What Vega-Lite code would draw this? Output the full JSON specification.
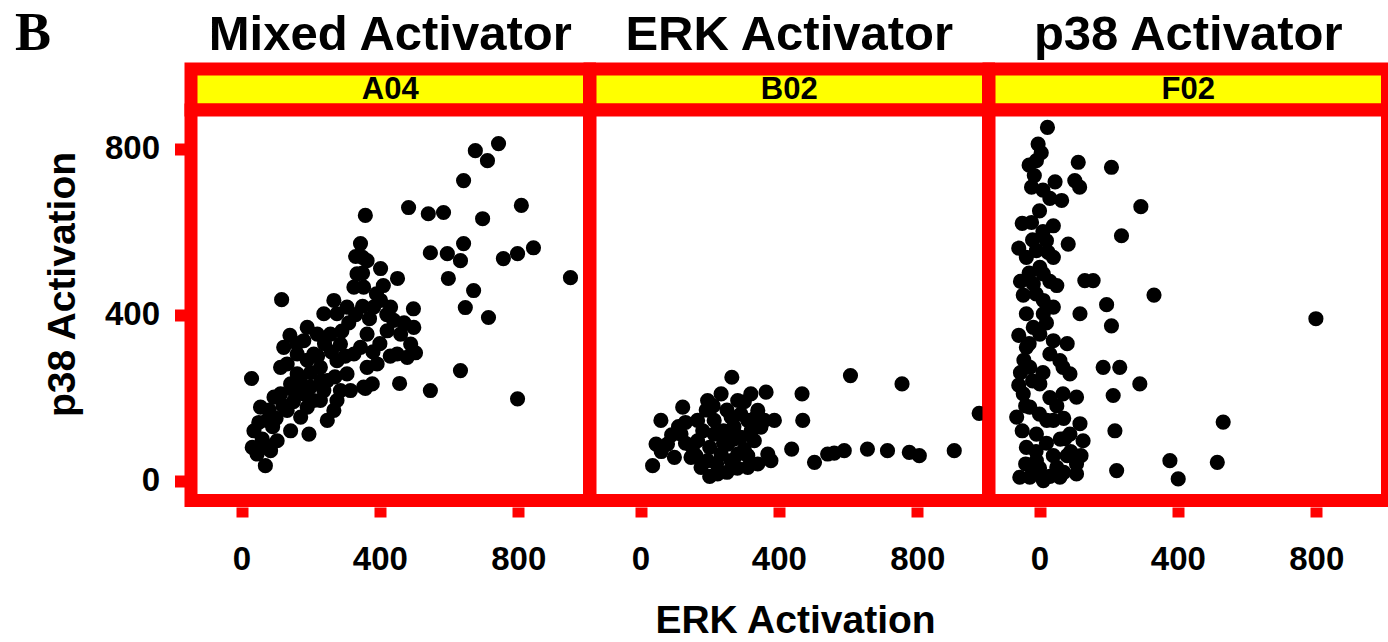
{
  "$schema": "https://vega.github.io/schema/vega-lite/v6.json",
  "autosize": {"type": "pad"},
  "padding": {"left": 14, "top": 4, "right": 0, "bottom": 0},
  "background": "white",
  "title": {"text": "B", "anchor": "start", "frame": "bounds", "font": "Liberation Serif", "fontSize": 54, "fontWeight": "bold", "color": "black", "dx": -22, "dy": 56, "offset": 0},
  "datasets": {
    "pts": [
      {"panel": "A04", "erk": 743, "p38": 812}, {"panel": "A04", "erk": 676, "p38": 795}, {"panel": "A04", "erk": 711, "p38": 771}, {"panel": "A04", "erk": 642, "p38": 723}, {"panel": "A04", "erk": 809, "p38": 663}, {"panel": "A04", "erk": 358, "p38": 639}, {"panel": "A04", "erk": 483, "p38": 658}, {"panel": "A04", "erk": 540, "p38": 643}, {"panel": "A04", "erk": 584, "p38": 646}, {"panel": "A04", "erk": 697, "p38": 631}, {"panel": "A04", "erk": 344, "p38": 571}, {"panel": "A04", "erk": 350, "p38": 538}, {"panel": "A04", "erk": 546, "p38": 549}, {"panel": "A04", "erk": 595, "p38": 547}, {"panel": "A04", "erk": 642, "p38": 571}, {"panel": "A04", "erk": 633, "p38": 530}, {"panel": "A04", "erk": 757, "p38": 535}, {"panel": "A04", "erk": 798, "p38": 547}, {"panel": "A04", "erk": 844, "p38": 561}, {"panel": "A04", "erk": 951, "p38": 489}, {"panel": "A04", "erk": 598, "p38": 487}, {"panel": "A04", "erk": 402, "p38": 511}, {"panel": "A04", "erk": 451, "p38": 487}, {"panel": "A04", "erk": 671, "p38": 458}, {"panel": "A04", "erk": 647, "p38": 417}, {"panel": "A04", "erk": 714, "p38": 393}, {"panel": "A04", "erk": 497, "p38": 414}, {"panel": "A04", "erk": 503, "p38": 308}, {"panel": "A04", "erk": 633, "p38": 265}, {"panel": "A04", "erk": 798, "p38": 197}, {"panel": "A04", "erk": 546, "p38": 217}, {"panel": "A04", "erk": 457, "p38": 234}, {"panel": "A04", "erk": 116, "p38": 436}, {"panel": "A04", "erk": 29, "p38": 246}, {"panel": "A04", "erk": 69, "p38": 36}, {"panel": "A04", "erk": 358, "p38": 222},
      {"panel": "A04", "erk": 31, "p38": 80}, {"panel": "A04", "erk": 36, "p38": 120}, {"panel": "A04", "erk": 55, "p38": 177}, {"panel": "A04", "erk": 74, "p38": 145}, {"panel": "A04", "erk": 65, "p38": 88}, {"panel": "A04", "erk": 103, "p38": 96}, {"panel": "A04", "erk": 113, "p38": 209}, {"panel": "A04", "erk": 132, "p38": 169}, {"panel": "A04", "erk": 142, "p38": 120}, {"panel": "A04", "erk": 171, "p38": 153}, {"panel": "A04", "erk": 195, "p38": 112}, {"panel": "A04", "erk": 190, "p38": 177}, {"panel": "A04", "erk": 228, "p38": 193}, {"panel": "A04", "erk": 267, "p38": 169}, {"panel": "A04", "erk": 276, "p38": 193}, {"panel": "A04", "erk": 248, "p38": 145}, {"panel": "A04", "erk": 84, "p38": 72}, {"panel": "A04", "erk": 45, "p38": 64},
      {"panel": "A04", "erk": 122, "p38": 321}, {"panel": "A04", "erk": 132, "p38": 281}, {"panel": "A04", "erk": 161, "p38": 257}, {"panel": "A04", "erk": 190, "p38": 369}, {"panel": "A04", "erk": 180, "p38": 337}, {"panel": "A04", "erk": 209, "p38": 305}, {"panel": "A04", "erk": 228, "p38": 273}, {"panel": "A04", "erk": 248, "p38": 241}, {"panel": "A04", "erk": 276, "p38": 289}, {"panel": "A04", "erk": 286, "p38": 329}, {"panel": "A04", "erk": 238, "p38": 402}, {"panel": "A04", "erk": 267, "p38": 434}, {"panel": "A04", "erk": 305, "p38": 418}, {"panel": "A04", "erk": 325, "p38": 466}, {"panel": "A04", "erk": 334, "p38": 498}, {"panel": "A04", "erk": 353, "p38": 466}, {"panel": "A04", "erk": 305, "p38": 257}, {"panel": "A04", "erk": 325, "p38": 305}, {"panel": "A04", "erk": 344, "p38": 321}, {"panel": "A04", "erk": 363, "p38": 273}, {"panel": "A04", "erk": 353, "p38": 225}, {"panel": "A04", "erk": 315, "p38": 217}, {"panel": "A04", "erk": 199, "p38": 225}, {"panel": "A04", "erk": 151, "p38": 217}, {"panel": "A04", "erk": 363, "p38": 353}, {"panel": "A04", "erk": 382, "p38": 418}, {"panel": "A04", "erk": 402, "p38": 434}, {"panel": "A04", "erk": 431, "p38": 418}, {"panel": "A04", "erk": 440, "p38": 386}, {"panel": "A04", "erk": 421, "p38": 361}, {"panel": "A04", "erk": 460, "p38": 353}, {"panel": "A04", "erk": 489, "p38": 329}, {"panel": "A04", "erk": 363, "p38": 530}, {"panel": "A04", "erk": 276, "p38": 402}, {"panel": "A04", "erk": 219, "p38": 353}, {"panel": "A04", "erk": 257, "p38": 353}, {"panel": "A04", "erk": 161, "p38": 305}, {"panel": "A04", "erk": 113, "p38": 273}, {"panel": "A04", "erk": 142, "p38": 233}, {"panel": "A04", "erk": 94, "p38": 201}, {"panel": "A04", "erk": 209, "p38": 193}, {"panel": "A04", "erk": 180, "p38": 209}, {"panel": "A04", "erk": 392, "p38": 281}, {"panel": "A04", "erk": 378, "p38": 233}, {"panel": "A04", "erk": 286, "p38": 217}, {"panel": "A04", "erk": 238, "p38": 217}, {"panel": "A04", "erk": 479, "p38": 297}, {"panel": "A04", "erk": 498, "p38": 369}, {"panel": "A04", "erk": 450, "p38": 305},
      {"panel": "A04", "erk": 60, "p38": 100}, {"panel": "A04", "erk": 90, "p38": 130}, {"panel": "A04", "erk": 120, "p38": 180}, {"panel": "A04", "erk": 150, "p38": 190}, {"panel": "A04", "erk": 170, "p38": 240}, {"panel": "A04", "erk": 200, "p38": 260}, {"panel": "A04", "erk": 220, "p38": 300}, {"panel": "A04", "erk": 240, "p38": 330}, {"panel": "A04", "erk": 260, "p38": 310}, {"panel": "A04", "erk": 290, "p38": 360}, {"panel": "A04", "erk": 310, "p38": 380}, {"panel": "A04", "erk": 330, "p38": 400}, {"panel": "A04", "erk": 350, "p38": 420}, {"panel": "A04", "erk": 370, "p38": 390}, {"panel": "A04", "erk": 390, "p38": 450}, {"panel": "A04", "erk": 410, "p38": 470}, {"panel": "A04", "erk": 300, "p38": 300}, {"panel": "A04", "erk": 270, "p38": 250}, {"panel": "A04", "erk": 230, "p38": 240}, {"panel": "A04", "erk": 190, "p38": 290}, {"panel": "A04", "erk": 160, "p38": 330}, {"panel": "A04", "erk": 140, "p38": 350}, {"panel": "A04", "erk": 100, "p38": 150}, {"panel": "A04", "erk": 80, "p38": 170}, {"panel": "A04", "erk": 50, "p38": 140}, {"panel": "A04", "erk": 350, "p38": 500}, {"panel": "A04", "erk": 330, "p38": 540}, {"panel": "A04", "erk": 420, "p38": 400}, {"panel": "A04", "erk": 470, "p38": 380}, {"panel": "A04", "erk": 400, "p38": 330}, {"panel": "A04", "erk": 430, "p38": 300}, {"panel": "A04", "erk": 380, "p38": 310},
      {"panel": "B02", "erk": 264, "p38": 249}, {"panel": "B02", "erk": 607, "p38": 253}, {"panel": "B02", "erk": 756, "p38": 233}, {"panel": "B02", "erk": 979, "p38": 162}, {"panel": "B02", "erk": 467, "p38": 209}, {"panel": "B02", "erk": 469, "p38": 145}, {"panel": "B02", "erk": 437, "p38": 76}, {"panel": "B02", "erk": 503, "p38": 44}, {"panel": "B02", "erk": 541, "p38": 64}, {"panel": "B02", "erk": 560, "p38": 66}, {"panel": "B02", "erk": 589, "p38": 72}, {"panel": "B02", "erk": 656, "p38": 76}, {"panel": "B02", "erk": 714, "p38": 72}, {"panel": "B02", "erk": 777, "p38": 68}, {"panel": "B02", "erk": 806, "p38": 60}, {"panel": "B02", "erk": 907, "p38": 72}, {"panel": "B02", "erk": 35, "p38": 36}, {"panel": "B02", "erk": 59, "p38": 145}, {"panel": "B02", "erk": 122, "p38": 177}, {"panel": "B02", "erk": 45, "p38": 88}, {"panel": "B02", "erk": 363, "p38": 213}, {"panel": "B02", "erk": 387, "p38": 145}, {"panel": "B02", "erk": 368, "p38": 64},
      {"panel": "B02", "erk": 194, "p38": 193}, {"panel": "B02", "erk": 233, "p38": 209}, {"panel": "B02", "erk": 281, "p38": 193}, {"panel": "B02", "erk": 319, "p38": 209}, {"panel": "B02", "erk": 339, "p38": 169}, {"panel": "B02", "erk": 165, "p38": 145}, {"panel": "B02", "erk": 213, "p38": 145}, {"panel": "B02", "erk": 262, "p38": 153}, {"panel": "B02", "erk": 310, "p38": 145}, {"panel": "B02", "erk": 348, "p38": 129}, {"panel": "B02", "erk": 117, "p38": 112}, {"panel": "B02", "erk": 165, "p38": 96}, {"panel": "B02", "erk": 213, "p38": 112}, {"panel": "B02", "erk": 252, "p38": 88}, {"panel": "B02", "erk": 290, "p38": 104}, {"panel": "B02", "erk": 329, "p38": 96}, {"panel": "B02", "erk": 146, "p38": 56}, {"panel": "B02", "erk": 194, "p38": 48}, {"panel": "B02", "erk": 223, "p38": 16}, {"panel": "B02", "erk": 262, "p38": 48}, {"panel": "B02", "erk": 310, "p38": 32}, {"panel": "B02", "erk": 98, "p38": 56}, {"panel": "B02", "erk": 78, "p38": 88}, {"panel": "B02", "erk": 175, "p38": 32}, {"panel": "B02", "erk": 281, "p38": 64}, {"panel": "B02", "erk": 233, "p38": 64}, {"panel": "B02", "erk": 358, "p38": 145}, {"panel": "B02", "erk": 377, "p38": 48}, {"panel": "B02", "erk": 339, "p38": 40}, {"panel": "B02", "erk": 200, "p38": 80}, {"panel": "B02", "erk": 240, "p38": 120}, {"panel": "B02", "erk": 180, "p38": 120}, {"panel": "B02", "erk": 270, "p38": 130}, {"panel": "B02", "erk": 300, "p38": 75}, {"panel": "B02", "erk": 220, "p38": 40}, {"panel": "B02", "erk": 150, "p38": 80}, {"panel": "B02", "erk": 130, "p38": 140},
      {"panel": "B02", "erk": 190, "p38": 170}, {"panel": "B02", "erk": 210, "p38": 180}, {"panel": "B02", "erk": 250, "p38": 170}, {"panel": "B02", "erk": 290, "p38": 160}, {"panel": "B02", "erk": 320, "p38": 120}, {"panel": "B02", "erk": 280, "p38": 30}, {"panel": "B02", "erk": 250, "p38": 20}, {"panel": "B02", "erk": 200, "p38": 10}, {"panel": "B02", "erk": 160, "p38": 60}, {"panel": "B02", "erk": 130, "p38": 90}, {"panel": "B02", "erk": 110, "p38": 130}, {"panel": "B02", "erk": 90, "p38": 110}, {"panel": "B02", "erk": 60, "p38": 70}, {"panel": "B02", "erk": 240, "p38": 90}, {"panel": "B02", "erk": 270, "p38": 100}, {"panel": "B02", "erk": 310, "p38": 60}, {"panel": "B02", "erk": 330, "p38": 150}, {"panel": "B02", "erk": 300, "p38": 190},
      {"panel": "F02", "erk": 23, "p38": 851}, {"panel": "F02", "erk": -4, "p38": 811}, {"panel": "F02", "erk": -9, "p38": 771}, {"panel": "F02", "erk": -23, "p38": 707}, {"panel": "F02", "erk": 112, "p38": 767}, {"panel": "F02", "erk": 102, "p38": 723}, {"panel": "F02", "erk": 116, "p38": 707}, {"panel": "F02", "erk": 208, "p38": 755}, {"panel": "F02", "erk": 64, "p38": 675}, {"panel": "F02", "erk": 293, "p38": 660}, {"panel": "F02", "erk": -23, "p38": 622}, {"panel": "F02", "erk": 40, "p38": 614}, {"panel": "F02", "erk": 237, "p38": 590}, {"panel": "F02", "erk": 83, "p38": 570}, {"panel": "F02", "erk": -9, "p38": 554}, {"panel": "F02", "erk": 1, "p38": 514}, {"panel": "F02", "erk": 131, "p38": 482}, {"panel": "F02", "erk": 155, "p38": 482}, {"panel": "F02", "erk": 331, "p38": 447}, {"panel": "F02", "erk": -47, "p38": 447}, {"panel": "F02", "erk": 194, "p38": 424}, {"panel": "F02", "erk": 117, "p38": 402}, {"panel": "F02", "erk": 208, "p38": 373}, {"panel": "F02", "erk": 799, "p38": 390}, {"panel": "F02", "erk": 11, "p38": 402}, {"panel": "F02", "erk": 1, "p38": 353}, {"panel": "F02", "erk": 30, "p38": 305}, {"panel": "F02", "erk": 184, "p38": 273}, {"panel": "F02", "erk": 232, "p38": 273}, {"panel": "F02", "erk": 290, "p38": 233}, {"panel": "F02", "erk": 88, "p38": 257}, {"panel": "F02", "erk": -28, "p38": 273}, {"panel": "F02", "erk": 107, "p38": 201}, {"panel": "F02", "erk": 68, "p38": 209}, {"panel": "F02", "erk": 213, "p38": 205}, {"panel": "F02", "erk": -47, "p38": 209}, {"panel": "F02", "erk": -66, "p38": 153}, {"panel": "F02", "erk": 40, "p38": 145}, {"panel": "F02", "erk": 117, "p38": 137}, {"panel": "F02", "erk": 73, "p38": 101}, {"panel": "F02", "erk": 88, "p38": 112}, {"panel": "F02", "erk": 126, "p38": 96}, {"panel": "F02", "erk": 218, "p38": 120}, {"panel": "F02", "erk": 531, "p38": 141}, {"panel": "F02", "erk": 377, "p38": 48}, {"panel": "F02", "erk": 401, "p38": 4}, {"panel": "F02", "erk": 514, "p38": 44}, {"panel": "F02", "erk": 223, "p38": 24}, {"panel": "F02", "erk": 107, "p38": 40}, {"panel": "F02", "erk": -38, "p38": 80}, {"panel": "F02", "erk": -57, "p38": 8}, {"panel": "F02", "erk": 11, "p38": 0}, {"panel": "F02", "erk": 59, "p38": 8}, {"panel": "F02", "erk": -9, "p38": 48}, {"panel": "F02", "erk": -28, "p38": 177}, {"panel": "F02", "erk": -9, "p38": 112}, {"panel": "F02", "erk": -38, "p38": 321}, {"panel": "F02", "erk": 40, "p38": 337}, {"panel": "F02", "erk": -18, "p38": 369}, {"panel": "F02", "erk": 11, "p38": 434}, {"panel": "F02", "erk": 40, "p38": 418}, {"panel": "F02", "erk": -38, "p38": 402}, {"panel": "F02", "erk": 59, "p38": 289}, {"panel": "F02", "erk": 1, "p38": 233}, {"panel": "F02", "erk": 21, "p38": 145}, {"panel": "F02", "erk": 107, "p38": 16}, {"panel": "F02", "erk": 50, "p38": 32}, {"panel": "F02", "erk": -28, "p38": 8}, {"panel": "F02", "erk": 11, "p38": 498}, {"panel": "F02", "erk": 40, "p38": 538}, {"panel": "F02", "erk": -38, "p38": 538}, {"panel": "F02", "erk": -18, "p38": 474}, {"panel": "F02", "erk": 20, "p38": 578}, {"panel": "F02", "erk": 68, "p38": 273},
      {"panel": "F02", "erk": 0, "p38": 650}, {"panel": "F02", "erk": 10, "p38": 600}, {"panel": "F02", "erk": -20, "p38": 580}, {"panel": "F02", "erk": 30, "p38": 480}, {"panel": "F02", "erk": -10, "p38": 450}, {"panel": "F02", "erk": 20, "p38": 380}, {"panel": "F02", "erk": -30, "p38": 330}, {"panel": "F02", "erk": 10, "p38": 260}, {"panel": "F02", "erk": -20, "p38": 240}, {"panel": "F02", "erk": 30, "p38": 200}, {"panel": "F02", "erk": -40, "p38": 180}, {"panel": "F02", "erk": 0, "p38": 160}, {"panel": "F02", "erk": -50, "p38": 120}, {"panel": "F02", "erk": 20, "p38": 90}, {"panel": "F02", "erk": -10, "p38": 70}, {"panel": "F02", "erk": 40, "p38": 60}, {"panel": "F02", "erk": 0, "p38": 30}, {"panel": "F02", "erk": -40, "p38": 40}, {"panel": "F02", "erk": 30, "p38": 10}, {"panel": "F02", "erk": 80, "p38": 60}, {"panel": "F02", "erk": 60, "p38": 100}, {"panel": "F02", "erk": -30, "p38": 500}, {"panel": "F02", "erk": 50, "p38": 470}, {"panel": "F02", "erk": 10, "p38": 700}, {"panel": "F02", "erk": -15, "p38": 735}, {"panel": "F02", "erk": 5, "p38": 790},
      {"panel": "F02", "erk": -50, "p38": 620}, {"panel": "F02", "erk": -60, "p38": 560}, {"panel": "F02", "erk": -55, "p38": 480}, {"panel": "F02", "erk": -60, "p38": 350}, {"panel": "F02", "erk": -55, "p38": 260}, {"panel": "F02", "erk": -60, "p38": 230}, {"panel": "F02", "erk": -45, "p38": 290}, {"panel": "F02", "erk": 30, "p38": 680}, {"panel": "F02", "erk": 45, "p38": 720}, {"panel": "F02", "erk": -30, "p38": 760}, {"panel": "F02", "erk": 70, "p38": 20}, {"panel": "F02", "erk": 90, "p38": 70}, {"panel": "F02", "erk": 120, "p38": 60}, {"panel": "F02", "erk": -20, "p38": 20}, {"panel": "F02", "erk": 50, "p38": 180}, {"panel": "F02", "erk": 70, "p38": 150}, {"panel": "F02", "erk": 80, "p38": 330}, {"panel": "F02", "erk": 25, "p38": 550}
    ]
  },
  "columns": 3,
  "spacing": 0,
  "bounds": "flush",
  "align": "each",
  "concat": [
    {
      "width": 398.5, "height": 41,
      "title": {"text": "Mixed Activator"},
      "data": {"values": [{"label": "A04"}]},
      "mark": {"type": "text", "font": "Liberation Sans", "fontSize": 31, "fontWeight": "bold", "color": "black", "baseline": "middle", "align": "center"},
      "encoding": {"text": {"field": "label", "type": "nominal"}},
      "view": {"fill": "#ffff00", "stroke": "#ff0000", "strokeWidth": 13}
    },
    {
      "width": 398.5, "height": 41,
      "title": {"text": "ERK Activator"},
      "data": {"values": [{"label": "B02"}]},
      "mark": {"type": "text", "font": "Liberation Sans", "fontSize": 31, "fontWeight": "bold", "color": "black", "baseline": "middle", "align": "center"},
      "encoding": {"text": {"field": "label", "type": "nominal"}},
      "view": {"fill": "#ffff00", "stroke": "#ff0000", "strokeWidth": 13}
    },
    {
      "width": 398.5, "height": 41,
      "title": {"text": "p38 Activator"},
      "data": {"values": [{"label": "F02"}]},
      "mark": {"type": "text", "font": "Liberation Sans", "fontSize": 31, "fontWeight": "bold", "color": "black", "baseline": "middle", "align": "center"},
      "encoding": {"text": {"field": "label", "type": "nominal"}},
      "view": {"fill": "#ffff00", "stroke": "#ff0000", "strokeWidth": 13}
    },
    {
      "width": 398.5, "height": 390.5,
      "data": {"name": "pts"},
      "transform": [{"filter": "datum.panel == 'A04'"}],
      "mark": {"type": "point", "filled": true, "shape": "circle", "size": 230, "color": "black", "opacity": 1},
      "encoding": {
        "x": {"field": "erk", "type": "quantitative", "scale": {"domain": [-146, 1006], "nice": false, "zero": false}, "axis": {"title": null, "values": [0, 400, 800]}},
        "y": {"field": "p38", "type": "quantitative", "scale": {"domain": [-48, 893], "nice": false, "zero": false}, "axis": {"title": "p38 Activation", "values": [0, 400, 800], "titleY": 174}}
      },
      "view": {"fill": "white", "stroke": "#ff0000", "strokeWidth": 13}
    },
    {
      "width": 398.5, "height": 390.5,
      "data": {"name": "pts"},
      "transform": [{"filter": "datum.panel == 'B02'"}],
      "mark": {"type": "point", "filled": true, "shape": "circle", "size": 230, "color": "black", "opacity": 1},
      "encoding": {
        "x": {"field": "erk", "type": "quantitative", "scale": {"domain": [-146, 1006], "nice": false, "zero": false}, "axis": {"title": "ERK Activation", "values": [0, 400, 800], "titleX": 205}},
        "y": {"field": "p38", "type": "quantitative", "scale": {"domain": [-48, 893], "nice": false, "zero": false}, "axis": null}
      },
      "view": {"fill": "white", "stroke": "#ff0000", "strokeWidth": 13}
    },
    {
      "width": 398.5, "height": 390.5,
      "data": {"name": "pts"},
      "transform": [{"filter": "datum.panel == 'F02'"}],
      "mark": {"type": "point", "filled": true, "shape": "circle", "size": 230, "color": "black", "opacity": 1},
      "encoding": {
        "x": {"field": "erk", "type": "quantitative", "scale": {"domain": [-146, 1006], "nice": false, "zero": false}, "axis": {"title": null, "values": [0, 400, 800]}},
        "y": {"field": "p38", "type": "quantitative", "scale": {"domain": [-48, 893], "nice": false, "zero": false}, "axis": null}
      },
      "view": {"fill": "white", "stroke": "#ff0000", "strokeWidth": 13}
    }
  ],
  "config": {
    "font": "Liberation Sans",
    "title": {"font": "Liberation Sans", "fontSize": 49, "fontWeight": "bold", "color": "black", "offset": 9},
    "axis": {"grid": false, "domain": false, "ticks": true, "tickColor": "#ff0000", "tickWidth": 12, "tickSize": 10, "offset": 6.5, "labelFont": "Liberation Sans", "labelFontSize": 33, "labelFontWeight": "bold", "labelColor": "black", "titleFont": "Liberation Sans", "titleFontSize": 39, "titleFontWeight": "bold", "titleColor": "black"},
    "axisX": {"labelPadding": 26, "titlePadding": 25},
    "axisY": {"labelPadding": 15, "titlePadding": 22}
  }
}
